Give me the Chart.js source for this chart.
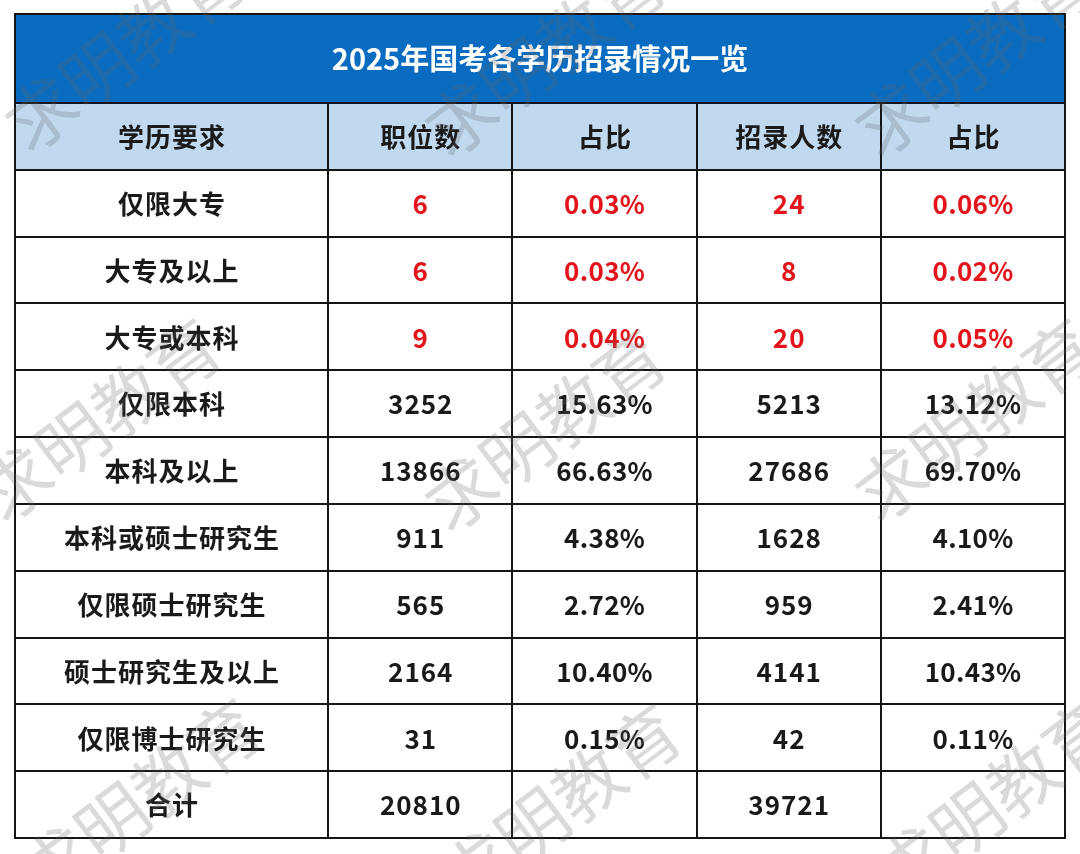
<!DOCTYPE html>
<html>
<head>
<meta charset="utf-8">
<script src="https://cdn.jsdelivr.net/npm/chart.js@4.4.1/dist/chart.umd.min.js"></script>
<style>
  html, body { margin: 0; padding: 0; background: #fff; }
  #wrap { width: 1080px; height: 854px; }
</style>
</head>
<body>
<div id="wrap"><canvas id="myChart" width="1080" height="854"></canvas></div>
<script>
const title = '2025年国考各学历招录情况一览';
const headers = ['学历要求', '职位数', '占比', '招录人数', '占比'];
const categories = ['仅限大专', '大专及以上', '大专或本科', '仅限本科', '本科及以上',
    '本科或硕士研究生', '仅限硕士研究生', '硕士研究生及以上', '仅限博士研究生', '合计'];
const positions = [6, 6, 9, 3252, 13866, 911, 565, 2164, 31, 20810];
const positionShare = [0.03, 0.03, 0.04, 15.63, 66.63, 4.38, 2.72, 10.40, 0.15, null];
const hires = [24, 8, 20, 5213, 27686, 1628, 959, 4141, 42, 39721];
const hireShare = [0.06, 0.02, 0.05, 13.12, 69.70, 4.10, 2.41, 10.43, 0.11, null];
const redRows = 3;

// column edges (x units) and row layout (y units)
const colEdges = [0, 1.7, 2.7, 3.7, 4.7, 5.7];
const titleH = 1.33;
const yMax = titleH + 1 + categories.length;

const FONT = '"Noto Sans CJK SC", "Noto Sans", sans-serif';
const RED = '#e3141b';

const fmtPct = v => v === null ? '' : v.toFixed(2) + '%';
const columns = [
    categories,
    positions.map(String),
    positionShare.map(fmtPct),
    hires.map(String),
    hireShare.map(fmtPct)
];

const datasets = columns.map((texts, c) => ({
    label: headers[c],
    texts: texts,
    colIndex: c,
    data: texts.map((t, r) => ({
        x: (colEdges[c] + colEdges[c + 1]) / 2,
        y: titleH + 1 + r + 0.5
    })),
    pointRadius: 0,
    pointHoverRadius: 0
}));

function centerText(c, text, x, y, spacing) {
    // letterSpacing pads the right side, so shift back half of it
    c.letterSpacing = spacing + 'px';
    c.fillText(text, x + spacing / 2, y);
    c.letterSpacing = '0px';
}

const tablePlugin = {
    id: 'tablePlugin',
    beforeDraw(chart) {
        const c = chart.ctx;
        c.save();
        c.fillStyle = '#fff';
        c.fillRect(0, 0, chart.width, chart.height);
        c.restore();
    },
    beforeDatasetsDraw(chart) {
        const c = chart.ctx;
        const xs = chart.scales.x, ys = chart.scales.y;
        const left = xs.getPixelForValue(0), right = xs.getPixelForValue(colEdges[colEdges.length - 1]);
        const top = ys.getPixelForValue(0), bottom = ys.getPixelForValue(yMax);
        const yTitle = ys.getPixelForValue(titleH), yHead = ys.getPixelForValue(titleH + 1);
        c.save();
        c.fillStyle = '#0a6cc0';
        c.fillRect(left, top, right - left, yTitle - top);
        c.fillStyle = '#c0d9ef';
        c.fillRect(left, yTitle, right - left, yHead - yTitle);

        c.strokeStyle = '#151515';
        c.lineWidth = 2;
        c.beginPath();
        for (let r = 0; r <= categories.length; r++) {
            const y = Math.round(ys.getPixelForValue(titleH + 1 + r));
            c.moveTo(left, y); c.lineTo(right, y);
        }
        c.moveTo(left, Math.round(yTitle)); c.lineTo(right, Math.round(yTitle));
        colEdges.slice(1, -1).forEach(v => {
            const x = Math.round(xs.getPixelForValue(v));
            c.moveTo(x, yTitle); c.lineTo(x, bottom);
        });
        c.stroke();
        c.strokeRect(left, top, right - left, bottom - top);

        // title and headers
        c.textAlign = 'center';
        c.textBaseline = 'middle';
        c.fillStyle = '#fff';
        c.font = 'bold 29px ' + FONT;
        c.fillText(title, (left + right) / 2, (top + yTitle) / 2 + 1);
        c.fillStyle = '#1a1a1a';
        c.font = 'bold 26px ' + FONT;
        headers.forEach((h, i) => {
            const x = xs.getPixelForValue((colEdges[i] + colEdges[i + 1]) / 2);
            centerText(c, h, x, (yTitle + yHead) / 2 + 1, 1);
        });
        c.restore();
    },
    afterDatasetsDraw(chart) {
        const c = chart.ctx;
        c.save();
        c.textAlign = 'center';
        c.textBaseline = 'middle';
        c.font = 'bold 26px ' + FONT;
        chart.data.datasets.forEach((ds, di) => {
            chart.getDatasetMeta(di).data.forEach((pt, r) => {
                c.fillStyle = (r < redRows && ds.colIndex > 0) ? RED : '#1a1a1a';
                const isPct = ds.texts[r].endsWith('%');
                centerText(c, ds.texts[r], pt.x, pt.y + 1, isPct ? 0.3 : 1);
            });
        });
        c.restore();
    },
    afterDraw(chart) {
        const c = chart.ctx;
        const spots = [
            [125, 50], [545, 55], [975, 55],
            [100, 420], [545, 430], [975, 420],
            [140, 800], [560, 805], [995, 800]
        ];
        c.save();
        c.fillStyle = 'rgba(100,100,100,0.24)';
        c.font = '70px ' + FONT;
        c.textAlign = 'center';
        c.textBaseline = 'middle';
        spots.forEach(([x, y]) => {
            c.save();
            c.translate(x, y);
            c.rotate(-37 * Math.PI / 180);
            c.fillText('求明教育', 0, 0);
            c.restore();
        });
        c.restore();
    }
};

const ctx = document.getElementById('myChart').getContext('2d');
const chart = new Chart(ctx, {
    type: 'scatter',
    data: { datasets: datasets },
    options: {
        responsive: false,
        animation: false,
        events: [],
        layout: { padding: { left: 15, top: 14, right: 15, bottom: 16 } },
        plugins: {
            legend: { display: false },
            tooltip: { enabled: false }
        },
        scales: {
            x: { type: 'linear', display: false, min: 0, max: colEdges[colEdges.length - 1] },
            y: { type: 'linear', display: false, min: 0, max: yMax, reverse: true }
        }
    },
    plugins: [tablePlugin]
});
</script>
</body>
</html>
